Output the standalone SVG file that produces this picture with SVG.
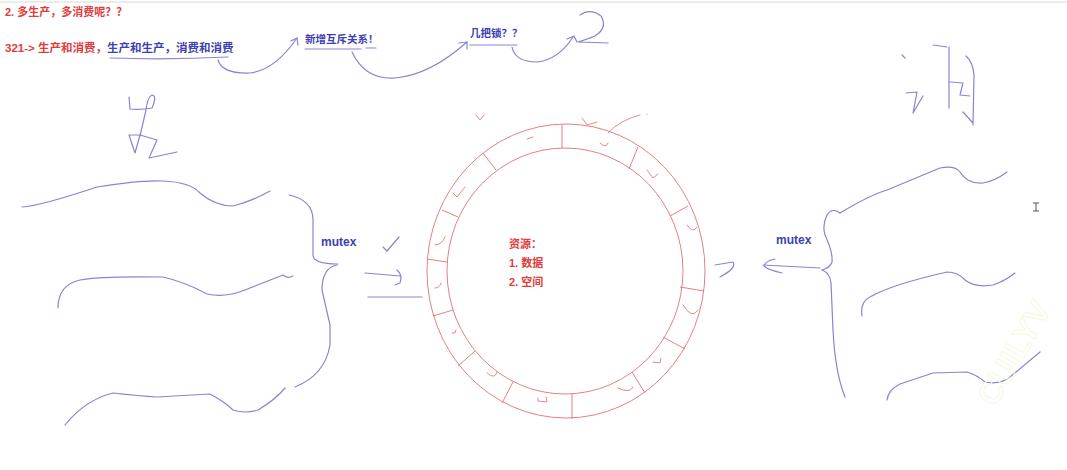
<svg xmlns="http://www.w3.org/2000/svg" width="1067" height="470" viewBox="0 0 1067 470">
<style>
.red{fill:#e23b3b;font-family:"Liberation Sans","Noto Sans CJK SC",sans-serif;font-weight:bold;font-size:11px}
.blue{fill:#3d41b3;font-family:"Liberation Sans","Noto Sans CJK SC",sans-serif;font-weight:bold;font-size:11px}
.ink{fill:none;stroke:#8585d6;stroke-width:1.2;stroke-linecap:round;stroke-linejoin:round}
.ring{fill:none;stroke:#e58080;stroke-width:1}
.tick{fill:none;stroke:#e58a8a;stroke-width:1;stroke-linecap:round}
</style>
<rect width="1067" height="470" fill="#ffffff"/>
<line x1="0" y1="2" x2="1067" y2="2" stroke="#ececec" stroke-width="2"/>

<g id="header">
<text class="red" x="5" y="16">2. 多生产，多消费呢？？</text>
<text class="red" x="5" y="52" style="font-size:11.5px">321-&gt; 生产和消费，<tspan class="blue" style="font-size:11.5px">生产和生产，消费和消费</tspan></text>
<text class="blue" x="305" y="43" style="font-size:10.5px">新增互斥关系！</text>
<text class="blue" x="470" y="37" style="font-size:10.5px">几把锁？？</text>
</g>

<g id="connectors">
<path class="ink" d="M110 58 Q170 60 228 57"/>
<path class="ink" d="M218 60 Q222 74 250 73 Q275 70 297 38"/>
<path class="ink" d="M291 41 L297 38 L298 45"/>
<path class="ink" d="M305 49 L361 49 M366 48 L376 48"/>
<path class="ink" d="M352 52 Q365 80 395 78 Q430 75 467 42"/>
<path class="ink" d="M459 43 L467 42 L467 49"/>
<path class="ink" d="M470 45 L517 45"/>
<path class="ink" d="M512 47 Q515 62 537 62 Q558 60 573 37"/>
<path class="ink" d="M567 39 L574 36 L577 42"/>
<path class="ink" d="M580 15 Q590 8 601 16 Q608 28 595 36 Q585 40 578 42 L608 43"/>
</g>

<g id="producer">
<path class="ink" d="M129 97 L130 109 Q142 110 152 108 Q157 97 153 95 Q148 95 146 110 L140 136"/>
<path class="ink" d="M129 135 L135 153 L140 135 Z"/>
<path class="ink" d="M140 135 L157 140 L149 158 L177 152"/>
<path class="ink" d="M22 207 Q40 206 97 187 Q140 180 163 181 Q190 182 200 193 Q215 206 233 206 Q250 202 270 191"/>
<path class="ink" d="M58 308 Q58 285 80 280 Q100 276 163 277 Q185 282 207 294 Q225 298 245 290 L283 275 Q287 279 293 276"/>
<path class="ink" d="M65 425 Q85 400 113 393 Q140 396 157 397 L210 394 Q225 402 233 410 Q245 414 258 410 Q275 400 285 388"/>
<path class="ink" d="M289 195 Q313 200 313 220 L313 255 Q313 264 338 264"/>
<path class="ink" d="M337 265 Q322 268 322 290 L330 325 L330 345 Q325 375 295 387"/>
<text class="blue" x="321" y="246" style="font-size:12px">mutex</text>
<path class="ink" d="M383 247 L387 251 L399 237"/>
<path class="ink" d="M365 273 L400 276 M397 270 Q403 275 400 283 L395 285"/>
<path class="ink" d="M368 297 L422 297"/>
</g>

<g id="ring">
<ellipse class="ring" cx="566" cy="271" rx="139" ry="147"/>
<ellipse class="ring" cx="565" cy="271" rx="118" ry="123"/>
<path class="ring" d="M562 124 L562 148 M638 147 L629 169 M688 206 L670 216 M704 291 L680 287 M685 349 L663 337 M645 393 L632 372 M572 419 L572 393 M502 403 L513 382 M458 366 L475 351 M433 316 L453 310 M427 259 L447 262 M442 210 L458 217 M483 153 L496 170"/>
<path class="tick" d="M600 143 Q606 149 608 143 M647 170 L653 178 L658 174 M687 225 Q693 234 697 227 M453 193 L457 197 L465 187 M435 245 Q442 245 445 237 M527 139 L533 137 M435 288 Q440 288 441 283 M452 333 L455 333 L456 330 M487 373 Q495 380 497 372 M538 398 L538 401 L547 402 L546 397 M618 388 Q630 394 633 387 M653 362 L660 363 L661 358 M683 305 Q692 320 698 310"/>
<path class="tick" d="M476 115 L480 120 L484 115 M582 118 L587 125 L597 122 M608 133 Q620 120 640 115"/>
<circle cx="647" cy="114" r="0.6" fill="#e58a8a"/>
<text class="red" x="509" y="248">资源：</text>
<text class="red" x="509" y="267">1. 数据</text>
<text class="red" x="509" y="286">2. 空间</text>
</g>

<g id="consumer">
<path class="ink" d="M902 55 L905 58 M906 93 L917 92 L913 113 L923 96"/>
<path class="ink" d="M933 45 L947 47 M949 47 L949 108 M950 82 L963 83 L960 95 L970 96 M966 56 Q973 62 974 75 L973 125 M963 112 L973 123"/>
<path class="ink" d="M840 213 Q870 195 887 190 L940 168 Q955 165 960 172 Q967 184 983 183 Q995 181 1007 172"/>
<path class="ink" d="M862 316 Q860 302 870 297 Q890 285 947 272 Q958 272 965 280 Q975 288 993 285 Q1005 281 1015 273"/>
<path class="ink" d="M887 400 Q888 390 900 384 L933 373 L967 372 Q977 375 985 382 Q1000 385 1010 377 L1040 352"/>
<path class="ink" d="M840 213 Q832 207 827 215 Q822 225 825 235 Q833 252 832 262 Q830 268 822 270"/>
<path class="ink" d="M763 265 L820 268 M775 259 Q765 261 764 266 Q768 270 782 273"/>
<path class="ink" d="M822 270 Q830 273 831 283 L833 330 Q835 372 845 397"/>
<path class="ink" d="M715 265 L733 262 Q737 268 720 277"/>
<text class="blue" x="776" y="244" style="font-size:12px">mutex</text>
</g>

<g id="cursor">
<path d="M1033 203 L1039 203 M1036 203 L1036 211 M1033 211 L1039 211" stroke="#555" stroke-width="1" fill="none"/>
</g>
<text x="995" y="408" transform="rotate(-60 995 408)" style="font-family:'Liberation Sans',sans-serif;font-size:32px;font-weight:bold" fill="none" stroke="#f4f9e2" stroke-width="1">CUILYV</text>
</svg>
